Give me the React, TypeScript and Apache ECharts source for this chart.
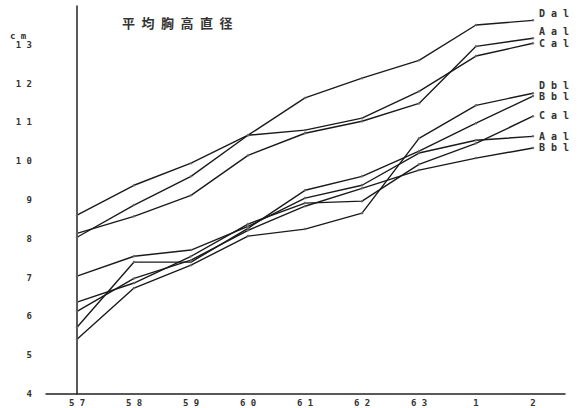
import React, { useEffect, useRef } from "react";
import * as echarts from "echarts";

const xLabels = ["5 7", "5 8", "5 9", "6 0", "6 1", "6 2", "6 3", "1", "2"];
const yTickValues = [4, 5, 6, 7, 8, 9, 10, 11, 12, 13];

const da1 = [8.04, 8.87, 9.61, 10.67, 11.63, 12.14, 12.6, 13.51, 13.63];
const aa1 = [8.14, 8.58, 9.12, 10.15, 10.72, 11.03, 11.49, 12.96, 13.17];
const ca1 = [8.61, 9.38, 9.95, 10.67, 10.8, 11.11, 11.8, 12.71, 13.04];
const db1 = [5.41, 6.73, 7.32, 8.07, 8.25, 8.66, 10.59, 11.44, 11.75];
const bb1Upper = [5.72, 7.4, 7.4, 8.27, 9.25, 9.61, 10.26, 10.98, 11.68];
const cb1 = [6.37, 6.86, 7.55, 8.38, 8.92, 8.97, 9.92, 10.46, 11.16];
const ab1 = [7.04, 7.55, 7.71, 8.32, 9.05, 9.38, 10.21, 10.54, 10.64];
const bb1Lower = [6.13, 6.98, 7.45, 8.22, 8.84, 9.3, 9.77, 10.08, 10.34];

const seriesNames = ["D a l", "A a l", "C a l", "D b l", "B b l", "C a l", "A a l", "B b l"];
const seriesValues = [da1, aa1, ca1, db1, bb1Upper, cb1, ab1, bb1Lower];
const labelOffsets = [
  [0, -7],
  [0, -7],
  [0, 0],
  [0, -8],
  [0, 0],
  [0, -1],
  [0, 0],
  [0, -1],
];

const titleText = ["平", "均", "胸", "高", "直", "径"].join("\u2002");
const spaced = (s: string) => s.split("").join(" ");
const mono = "DejaVu Sans Mono";

export default function App() {
  const ref = useRef<HTMLDivElement>(null);
  useEffect(() => {
    if (!ref.current) return;
    const chart = echarts.init(ref.current, null, { renderer: "svg" });
    const series = seriesValues.map((vals, si) => ({
      type: "line",
      name: seriesNames[si] + "#" + si,
      data: vals.map((v, i) => [i, v]),
      symbol: "diamond",
      symbolSize: 3,
      showSymbol: true,
      itemStyle: { color: "#666" },
      lineStyle: { color: "#1a1a1a", width: 1.4 },
      emphasis: { disabled: true },
      endLabel: {
        show: true,
        formatter: () => seriesNames[si],
        offset: labelOffsets[si],
        distance: 6,
        fontFamily: mono,
        fontSize: 10,
        fontWeight: "bold",
        color: "#333",
      },
    }));
    chart.setOption({
      animation: false,
      backgroundColor: "#ffffff",
      title: {
        text: titleText,
        left: 117,
        top: 11,
        textStyle: {
          fontFamily: "Noto Sans CJK JP",
          fontSize: 13,
          fontWeight: "bold",
          color: "#333",
        },
      },
      grid: { left: 46, right: 13, top: 6, bottom: 14, containLabel: false },
      xAxis: {
        type: "value",
        min: -0.544,
        max: 8.561,
        axisLine: { show: true, onZero: false, lineStyle: { color: "#222", width: 1.5 } },
        axisTick: { show: false },
        splitLine: { show: false },
        axisLabel: {
          customValues: [0, 1, 2, 3, 4, 5, 6, 7, 8],
          formatter: (v: number) => {
            const i = Math.round(v);
            return Math.abs(v - i) < 1e-6 && i >= 0 && i < xLabels.length ? xLabels[i] : "";
          },
          margin: 4,
          fontFamily: mono,
          fontSize: 9,
          fontWeight: "bold",
          color: "#333",
        },
      },
      yAxis: {
        type: "value",
        min: 4,
        max: 14,
        interval: 1,
        axisLine: { show: true, lineStyle: { color: "#222", width: 1.5 } },
        axisTick: { show: false },
        splitLine: { show: false },
        axisLabel: {
          customValues: yTickValues,
          formatter: (v: number) => (yTickValues.indexOf(v) >= 0 ? spaced(String(v)) : ""),
          margin: 14,
          fontFamily: mono,
          fontSize: 9,
          fontWeight: "bold",
          color: "#333",
        },
      },
      graphic: [
        {
          type: "text",
          left: 10,
          top: 31,
          style: {
            text: "c m",
            fontFamily: mono,
            fontSize: 9,
            fontWeight: "bold",
            fill: "#333",
          },
        },
      ],
      series,
    });
    return () => chart.dispose();
  }, []);
  return <div ref={ref} style={{ width: 578, height: 408, position: "absolute", left: 0, top: 0 }} />;
}
